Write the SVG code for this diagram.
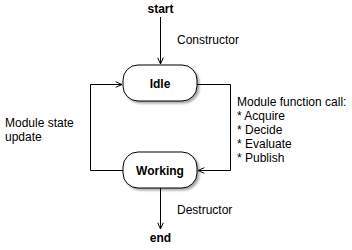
<svg xmlns="http://www.w3.org/2000/svg" width="352" height="250" viewBox="0 0 352 250">
  <style>
    .lbl { font-family: "Liberation Sans", Arial, sans-serif; font-size: 12px; fill: #000; }
    .bold { font-weight: bold; }
    .state { fill: #fff; stroke: #000; stroke-width: 1; }
    .wire { fill: none; stroke: #000; stroke-width: 1; marker-end: url(#open); }
  </style>
  <defs>
    <marker id="open" viewBox="0 0 10 10" refX="10" refY="5" markerWidth="7" markerHeight="7" markerUnits="userSpaceOnUse" orient="auto">
      <path d="M1,1 L10,5 L1,9" fill="none" stroke="#000" stroke-width="1.4"/>
    </marker>
    <filter id="shadow" x="-20%" y="-20%" width="150%" height="160%">
      <feGaussianBlur in="SourceAlpha" stdDeviation="1.2"/>
      <feOffset dx="1.5" dy="2" result="b"/>
      <feComponentTransfer><feFuncA type="linear" slope="0.35"/></feComponentTransfer>
      <feMerge><feMergeNode/><feMergeNode in="SourceGraphic"/></feMerge>
    </filter>
  </defs>

  <g id="connectors">
    <path class="wire" d="M160.5,17 V64"/>
    <path class="wire" d="M197,84.5 H230.5 V170.5 H198"/>
    <path class="wire" d="M123,170.5 H90.5 V84.5 H122"/>
    <path class="wire" d="M160.5,188 V229"/>
  </g>

  <g id="start">
    <text class="lbl bold" x="160.5" y="13" text-anchor="middle">start</text>
  </g>
  <g id="idle">
    <rect class="state" x="123" y="65" width="74" height="36" rx="15" ry="15" filter="url(#shadow)"/>
    <text class="lbl bold" x="160" y="87.5" text-anchor="middle">Idle</text>
  </g>
  <g id="working">
    <rect class="state" x="123" y="152" width="74" height="36" rx="15" ry="15" filter="url(#shadow)"/>
    <text class="lbl bold" x="160" y="174.5" text-anchor="middle">Working</text>
  </g>
  <g id="end">
    <text class="lbl bold" x="160.5" y="242" text-anchor="middle">end</text>
  </g>

  <g id="labels">
    <text class="lbl" x="177" y="44">Constructor</text>
    <text class="lbl" x="177" y="214">Destructor</text>
    <text class="lbl" x="5" y="127">Module state</text>
    <text class="lbl" x="5" y="141">update</text>
    <text class="lbl" x="237" y="106">Module function call:</text>
    <text class="lbl" x="237" y="120">* Acquire</text>
    <text class="lbl" x="237" y="134">* Decide</text>
    <text class="lbl" x="237" y="148">* Evaluate</text>
    <text class="lbl" x="237" y="162">* Publish</text>
  </g>
</svg>
